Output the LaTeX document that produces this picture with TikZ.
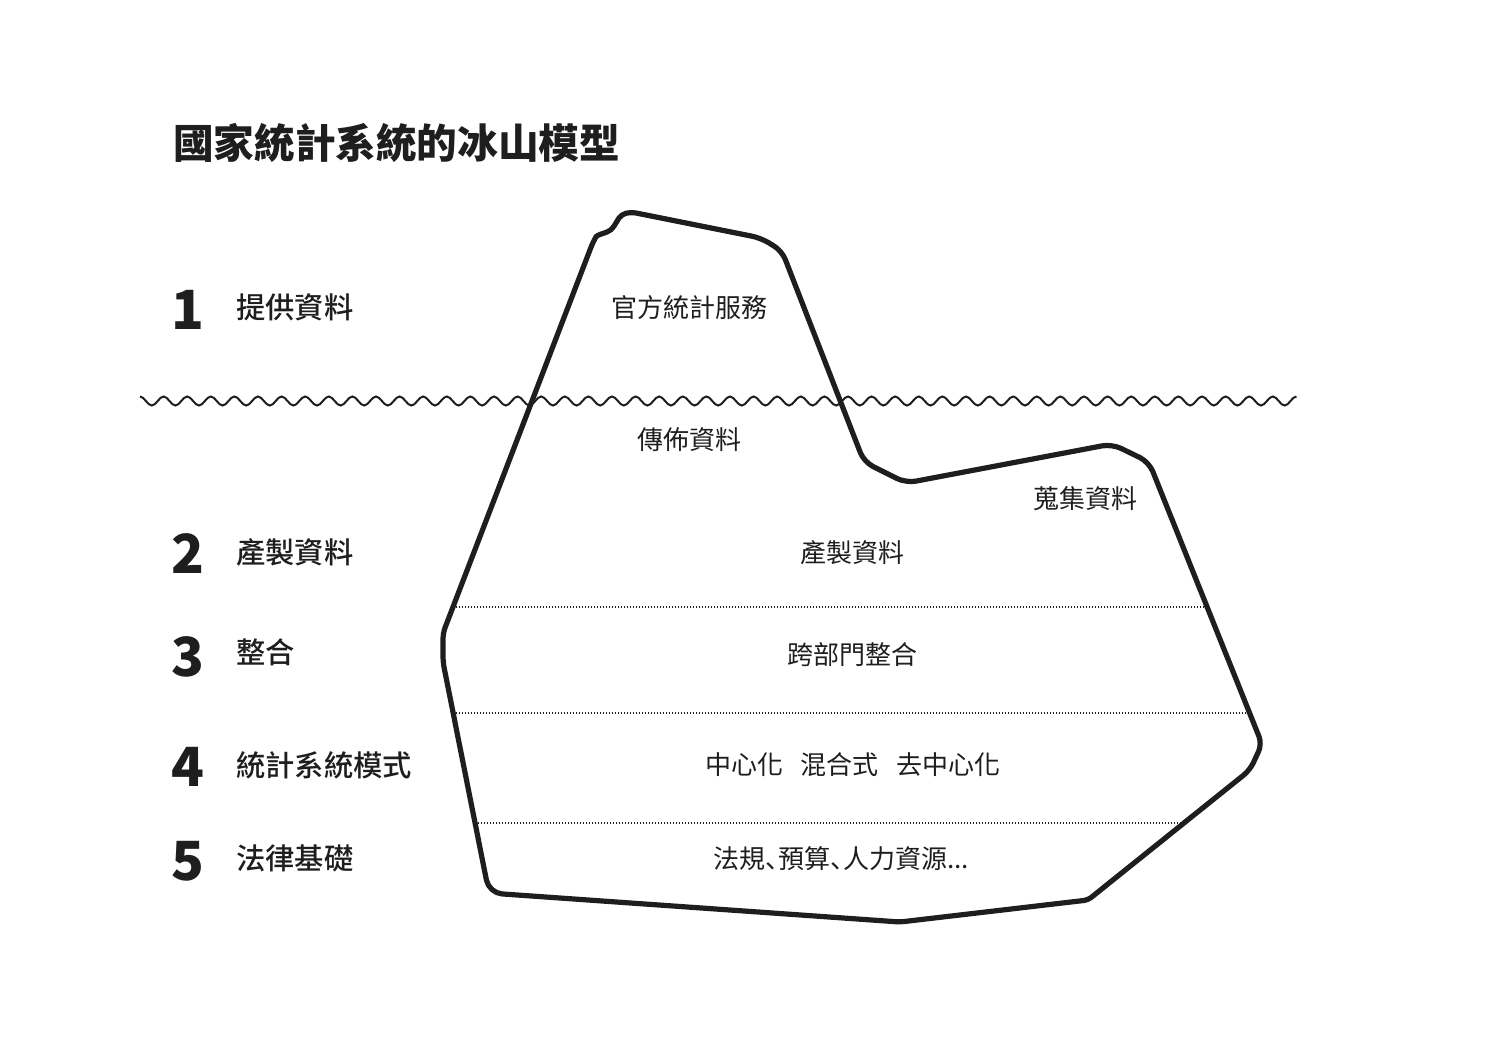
\documentclass[tikz,border=0pt]{standalone}
\usepackage{fontspec}
\setmainfont{Noto Sans CJK TC}
\newfontfamily\medfont{Noto Sans CJK TC Medium}
\newfontfamily\jpfont{Noto Sans CJK JP}
\definecolor{ink}{HTML}{1E1E1E}
% narrow enumeration comma
\newcommand\dun{\makebox[0.5em][l]{\jpfont 、}}

\begin{document}
\begin{tikzpicture}[x=1pt,y=-1pt,
  every node/.style={inner sep=0pt, text=ink},
  heading/.style={anchor=west, text height=33.7pt, text depth=2.8pt,
    font=\fontsize{40.6}{40.6}\selectfont\bfseries},
  num/.style={anchor=west, text height=41pt, text depth=0pt,
    font=\fontsize{54}{54}\selectfont\bfseries},
  tier/.style={anchor=west, text height=24.5pt, text depth=2.1pt,
    font=\fontsize{29.3}{29.3}\selectfont\medfont},
  inlabel/.style={text height=21.6pt, text depth=1.8pt,
    font=\fontsize{26}{26}\selectfont},
  berg/.style={line width=5.2pt, draw=ink, line join=round, line cap=round},
  sea/.style={line width=2pt, draw=ink},
  layer/.style={line width=1.4pt, draw=ink, dash pattern=on 1.4pt off 1.6pt}]

\useasboundingbox (0,0) rectangle (1500,1060);

% sea surface
\draw[sea] (140,396.5) \foreach \i in {1,...,49}{
  cos ++(5.9,4.5) sin ++(5.9,4.5) cos ++(5.9,-4.5) sin ++(5.9,-4.5)};

% iceberg outline
\draw[berg] (700,907.9) [rounded corners=13pt] -- (489,893)
  [rounded corners=6pt] -- (443,662) -- (443,633) -- (593,242)
  [sharp corners] .. controls (597,235) and (602,234) .. (607,232)
  .. controls (613,230) and (615,224) .. (619,218)
  .. controls (623,213) and (628,212) .. (636,213)
  [rounded corners=9pt] -- (761,238) -- (782,251)
  [rounded corners=10pt] -- (864,462) -- (906,483) -- (1112,444) -- (1149,462)
  [rounded corners=8pt] -- (1262,744) -- (1250,770)
  [rounded corners=4pt] -- (1088,900) -- (900,922) -- cycle;

% layer boundaries
\coordinate (a1) at (453,607);   \coordinate (b1) at (1207,607);
\coordinate (a2) at (453,713);   \coordinate (b2) at (1249,713);
\coordinate (a3) at (475,823);   \coordinate (b3) at (1184,823);
\draw[layer] (a1) -- (b1);
\draw[layer] (a2) -- (b2);
\draw[layer] (a3) -- (b3);

% heading
\node[heading] (head) at (173,143) {國家統計系統的冰山模型};

% tier numbers and names
\node[num] (n1) at (171,309) {1};
\node[num] (n2) at (171,553) {2};
\node[num] (n3) at (171,656) {3};
\node[num] (n4) at (171,766) {4};
\node[num] (n5) at (171,860) {5};
\node[tier] (t1) at (236,307) {提供資料};
\node[tier] (t2) at (236,552) {產製資料};
\node[tier] (t3) at (236,652) {整合};
\node[tier] (t4) at (236,765) {統計系統模式};
\node[tier] (t5) at (236,858) {法律基礎};

% labels inside the iceberg
\node[inlabel] (s1) at (689,308) {官方統計服務};
\node[inlabel] (s2) at (689,440) {傳佈資料};
\node[inlabel] (s3) at (1085,499) {蒐集資料};
\node[inlabel] (s4) at (852,553) {產製資料};
\node[inlabel] (s5) at (852,655) {跨部門整合};
\node[inlabel] (s6) at (853,765) {中心化\hspace{18pt}混合式\hspace{18pt}去中心化};
\node[inlabel] (s7) at (841,859) {法規\dun 預算\dun 人力資源...};
\end{tikzpicture}
\end{document}
